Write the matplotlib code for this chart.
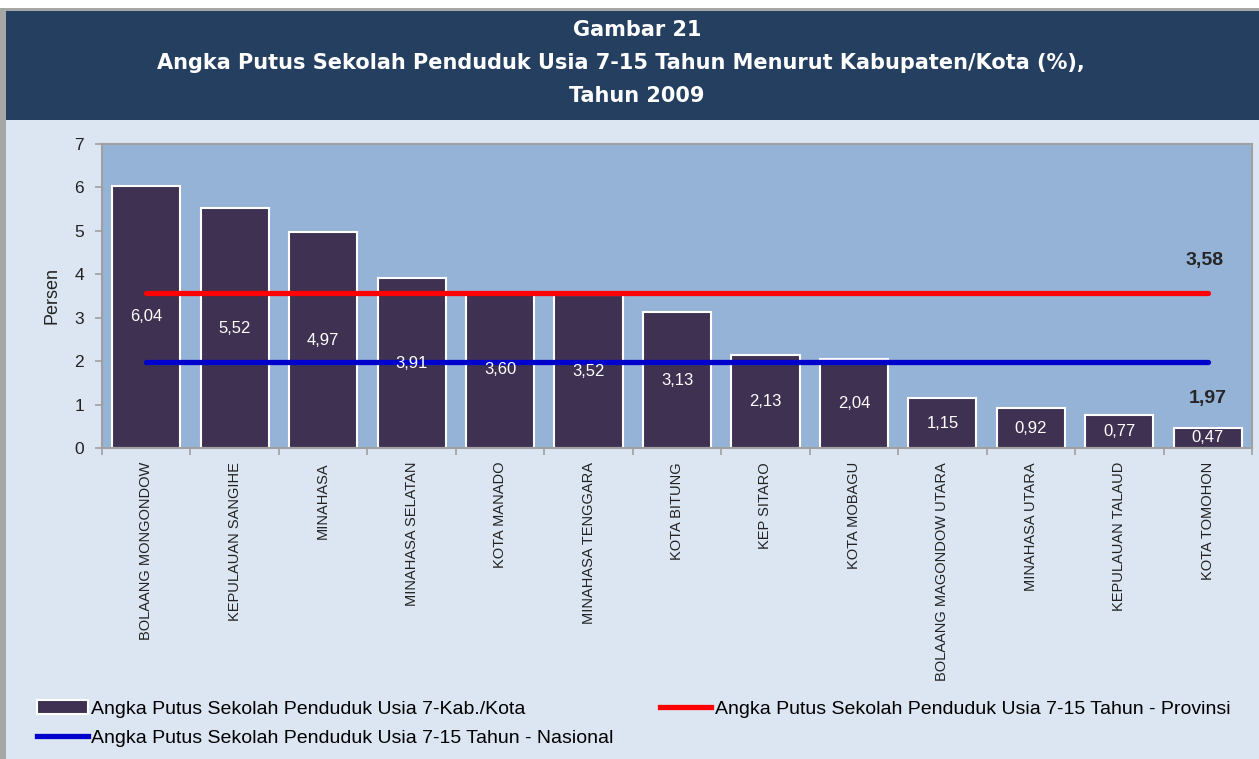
import numpy as np
import matplotlib.pyplot as plt
from matplotlib.patches import Rectangle, Patch
from matplotlib.lines import Line2D

# data
kabupaten = [
    "BOLAANG MONGONDOW", "KEPULAUAN SANGIHE", "MINAHASA", "MINAHASA SELATAN",
    "KOTA MANADO", "MINAHASA TENGGARA", "KOTA BITUNG", "KEP SITARO",
    "KOTA MOBAGU", "BOLAANG MAGONDOW UTARA", "MINAHASA UTARA",
    "KEPULAUAN TALAUD", "KOTA TOMOHON",
]
putus_sekolah = [6.04, 5.52, 4.97, 3.91, 3.60, 3.52, 3.13, 2.13, 2.04, 1.15, 0.92, 0.77, 0.47]
provinsi = 3.58
nasional = 1.97

title_lines = [
    "Gambar 21",
    "Angka Putus Sekolah Penduduk Usia 7-15 Tahun Menurut Kabupaten/Kota (%),",
    "Tahun 2009",
]
title_centers = [637, 621, 637]  # px, the original lines are not on one axis

W, H = 1259, 759
fig = plt.figure(figsize=(W / 100, H / 100), dpi=100, facecolor="#DCE6F2")

def px(x0, y0, x1, y1, **kw):
    # rectangle given in pixel coords from top-left
    fig.patches.append(Rectangle((x0 / W, 1 - y1 / H), (x1 - x0) / W, (y1 - y0) / H,
                                 transform=fig.transFigure, **kw))

px(0, 0, W, 8, facecolor="white", edgecolor="none")
px(0, 8, W, 11, facecolor="#A6A6A6", edgecolor="none")
px(0, 8, 6, H, facecolor="#A6A6A6", edgecolor="none")
px(6, 11, W, 120, facecolor="#243F60", edgecolor="none")

for i, (t, cx) in enumerate(zip(title_lines, title_centers)):
    fig.text(cx / W, 1 - (30 + 33 * i) / H, t, ha="center", va="center",
             color="white", fontsize=15, fontweight="bold", family="DejaVu Sans")

ax = fig.add_axes([102 / W, 1 - 448 / H, (1252 - 102) / W, (448 - 144) / H])
ax.set_facecolor("#95B3D7")

x = np.arange(len(kabupaten))
ax.bar(x, putus_sekolah, width=0.77, color="#3F3151", edgecolor="white", linewidth=1.5, zorder=2)
for xi, v in zip(x, putus_sekolah):
    ax.text(xi, v / 2, f"{v:.2f}".replace(".", ","), ha="center", va="center",
            color="white", fontsize=12, family="Liberation Sans", zorder=4)

ax.plot([x[0], x[-1]], [provinsi, provinsi], color="#FF0000", lw=3.8, solid_capstyle="round", zorder=3)
ax.plot([x[0], x[-1]], [nasional, nasional], color="#0000CC", lw=3.8, solid_capstyle="round", zorder=3)
ax.annotate(f"{provinsi:.2f}".replace(".", ","), (x[-1], provinsi), xytext=(-2, 23),
            textcoords="offset points", ha="center", va="center", fontsize=14,
            fontweight="bold", color="#262626", family="Liberation Sans")
ax.annotate(f"{nasional:.2f}".replace(".", ","), (x[-1], nasional), xytext=(0, -26),
            textcoords="offset points", ha="center", va="center", fontsize=14,
            fontweight="bold", color="#262626", family="Liberation Sans")

ax.set_xlim(-0.5, len(kabupaten) - 0.5)
ax.set_ylim(0, 7)
ax.set_yticks(range(0, 8))
ax.set_xticks(np.arange(-0.5, len(kabupaten)), minor=False)
ax.set_xticklabels([])
ax.set_xticks(x, minor=True)
ax.set_xticklabels(kabupaten, minor=True, rotation=90, va="top", ha="center",
                   fontsize=10.5, family="Liberation Sans", color="#222222")
ax.tick_params(axis="x", which="minor", length=0, pad=10)
ax.tick_params(axis="x", which="major", length=5, color="#A0A0A0", width=1.2)
ax.tick_params(axis="y", length=5, color="#A0A0A0", width=1.2, labelsize=12.5,
               labelcolor="#222222", pad=8)
for lab in ax.get_yticklabels():
    lab.set_family("Liberation Sans")
for s in ax.spines.values():
    s.set_color("#A0A0A0")
    s.set_linewidth(1.5)
ax.set_ylabel("Persen", fontsize=13, family="Liberation Sans", color="#222222", labelpad=10)

handles = [
    Patch(facecolor="#3F3151", edgecolor="white", linewidth=1.5,
          label="Angka Putus Sekolah Penduduk Usia 7-Kab./Kota"),
    Line2D([], [], color="#0000CC", lw=3.8, label="Angka Putus Sekolah Penduduk Usia 7-15 Tahun - Nasional"),
    Line2D([], [], color="#FF0000", lw=3.8, label="Angka Putus Sekolah Penduduk Usia 7-15 Tahun - Provinsi"),
]
fig.legend(handles=handles, ncol=2, loc="upper left", bbox_to_anchor=(37 / W, 1 - 700 / H),
           frameon=False, prop={"family": "Liberation Sans", "size": 14},
           handlelength=2.6, handletextpad=0.2, columnspacing=2.4, labelspacing=0.62,
           borderaxespad=0, borderpad=0)

fig.savefig("out.png", dpi=100, facecolor=fig.get_facecolor())
